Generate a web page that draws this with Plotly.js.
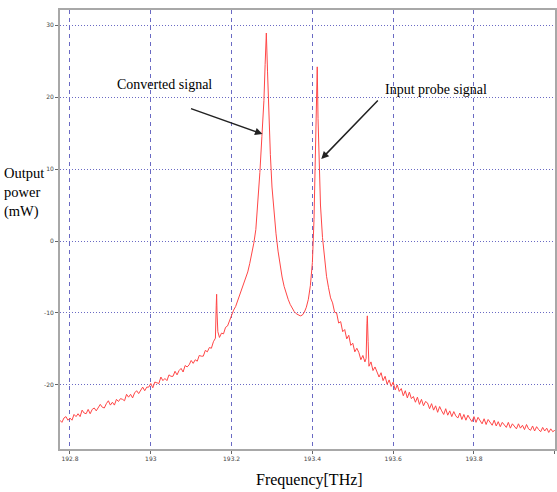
<!DOCTYPE html>
<html><head><meta charset="utf-8">
<script src="https://cdn.plot.ly/plotly-3.0.1.min.js"></script>
<style>html,body{margin:0;padding:0;background:#fff;}</style>
</head><body>
<div id="chart" style="width:557px;height:492px;"></div>
<script>
const freq = [
192.775,192.780,192.785,192.790,192.795,192.800,192.805,192.810,192.815,192.820,
192.825,192.830,192.835,192.840,192.845,192.850,192.855,192.860,192.865,192.870,
192.875,192.880,192.885,192.890,192.895,192.900,192.905,192.910,192.915,192.920,
192.925,192.930,192.935,192.940,192.945,192.950,192.955,192.960,192.965,192.970,
192.975,192.980,192.985,192.990,192.995,193.000,193.005,193.010,193.015,193.020,
193.025,193.030,193.035,193.040,193.045,193.050,193.055,193.060,193.065,193.070,
193.075,193.080,193.085,193.090,193.095,193.100,193.105,193.110,193.115,193.120,
193.125,193.130,193.135,193.140,193.145,193.150,193.155,193.160,193.162,193.163,
193.164,193.166,193.170,193.175,193.180,193.185,193.190,193.195,193.200,193.205,
193.210,193.215,193.220,193.225,193.230,193.235,193.240,193.245,193.250,193.255,
193.260,193.265,193.270,193.275,193.280,193.283,193.286,193.289,193.292,193.296,
193.300,193.305,193.310,193.315,193.320,193.325,193.330,193.335,193.340,193.345,
193.350,193.355,193.360,193.365,193.370,193.375,193.380,193.385,193.390,193.395,
193.400,193.404,193.407,193.410,193.412,193.414,193.417,193.420,193.425,193.430,
193.435,193.440,193.445,193.450,193.455,193.460,193.465,193.470,193.475,193.480,
193.485,193.490,193.495,193.500,193.505,193.510,193.515,193.520,193.525,193.530,
193.533,193.535,193.536,193.538,193.540,193.545,193.550,193.555,193.560,193.565,
193.570,193.575,193.580,193.585,193.590,193.595,193.600,193.605,193.610,193.615,
193.620,193.625,193.630,193.635,193.640,193.645,193.650,193.655,193.660,193.665,
193.670,193.675,193.680,193.685,193.690,193.695,193.700,193.705,193.710,193.715,
193.720,193.725,193.730,193.735,193.740,193.745,193.750,193.755,193.760,193.765,
193.770,193.775,193.780,193.785,193.790,193.795,193.800,193.805,193.810,193.815,
193.820,193.825,193.830,193.835,193.840,193.845,193.850,193.855,193.860,193.865,
193.870,193.875,193.880,193.885,193.890,193.895,193.900,193.905,193.910,193.915,
193.920,193.925,193.930,193.935,193.940,193.945,193.950,193.955,193.960,193.965,
193.970,193.975,193.980,193.985,193.990,193.995,194.000
];
const power = [
-24.9,-25.2,-24.6,-24.4,-24.9,-24.6,-24.9,-24.1,-24.4,-24.0,
-24.4,-23.5,-23.9,-24.0,-23.4,-24.0,-23.4,-23.2,-23.6,-23.2,
-22.7,-23.1,-23.2,-22.6,-22.2,-22.8,-22.4,-22.8,-22.0,-22.3,
-21.9,-22.0,-22.2,-21.3,-21.7,-21.3,-21.8,-21.1,-20.8,-21.2,
-20.8,-20.3,-20.8,-20.3,-20.3,-19.8,-20.4,-19.6,-19.7,-19.8,
-18.9,-19.4,-19.1,-19.4,-18.6,-18.8,-18.8,-18.1,-18.6,-18.0,
-17.7,-18.2,-17.3,-17.5,-17.2,-16.6,-17.0,-16.5,-16.7,-15.9,
-16.0,-16.0,-15.2,-15.4,-14.8,-14.9,-14.0,-13.5,-9.0,-7.4,
-10.0,-12.6,-13.4,-12.8,-12.9,-12.0,-11.8,-11.0,-10.4,-9.6,
-9.1,-8.3,-7.7,-6.8,-6.1,-5.2,-4.3,-3.1,-1.9,-0.3,
1.6,5.0,9.5,14.5,19.5,24.5,28.9,23.5,17.5,12.0,
7.5,3.8,1.0,-1.4,-3.4,-5.0,-6.3,-7.3,-8.1,-8.8,
-9.4,-9.8,-10.1,-10.3,-10.4,-10.3,-9.9,-9.2,-8.1,-6.2,
-3.0,3.0,10.0,18.0,24.2,17.0,10.0,5.0,0.5,-2.7,
-4.9,-6.5,-7.9,-8.6,-9.9,-10.0,-11.4,-11.2,-12.6,-12.3,
-13.6,-13.1,-14.5,-14.2,-15.4,-14.9,-15.5,-16.5,-15.9,-16.8,
-16.3,-11.5,-10.4,-14.0,-17.4,-16.8,-18.0,-17.5,-18.1,-18.9,
-18.3,-19.4,-18.8,-19.9,-19.3,-20.2,-19.6,-20.7,-20.0,-20.9,
-20.5,-21.5,-20.8,-21.8,-21.0,-21.9,-21.6,-22.4,-21.7,-22.7,
-22.0,-22.9,-22.3,-22.5,-23.3,-22.6,-23.5,-22.9,-23.8,-23.0,
-23.6,-24.1,-23.3,-24.2,-23.6,-24.4,-23.7,-24.3,-24.6,-23.9,
-24.8,-24.1,-24.9,-24.2,-24.7,-25.1,-24.4,-25.2,-24.5,-25.0,
-25.4,-24.7,-25.5,-24.8,-25.3,-25.6,-24.9,-25.7,-25.1,-25.8,
-25.2,-25.5,-25.9,-25.2,-26.0,-25.4,-25.8,-26.1,-25.4,-26.0,
-25.6,-26.2,-25.5,-26.1,-26.3,-25.7,-26.4,-25.8,-26.2,-26.5,
-25.9,-26.4,-26.0,-26.6,-26.1,-26.5,-26.3
];
const xTickVals = [192.8, 193.0, 193.2, 193.4, 193.6, 193.8, 194.0];
const xTickText = ['192.8', '193', '193.2', '193.4', '193.6', '193.8', '194'];
const yTickVals = [-20, -10, 0, 10, 20, 30];
const yTickText = ['-20', '-10', '0', '10', '20', '30'];

const serif = 'Liberation Serif, Times New Roman, serif';
const trace = {
  x: freq, y: power, type: 'scatter', mode: 'lines',
  line: {color: 'rgb(255,70,70)', width: 1},
  hoverinfo: 'skip'
};
const axisCommon = {
  showline: true, linecolor: '#a8a8a8', linewidth: 2, mirror: true,
  gridcolor: '#6a6ac4', gridwidth: 1, zeroline: false,
  ticks: 'outside', ticklen: 3, tickcolor: '#666',
  tickfont: {family: 'DejaVu Sans', size: 6, color: '#444'}
};
const layout = {
  width: 557, height: 492,
  margin: {l: 60, r: 2, t: 10, b: 43},
  paper_bgcolor: '#fff', plot_bgcolor: '#fff',
  showlegend: false,
  xaxis: Object.assign({}, axisCommon, {
    range: [192.7753, 194.0005], tickvals: xTickVals, ticktext: xTickText,
    griddash: '4px,4px'
  }),
  yaxis: Object.assign({}, axisCommon, {
    range: [-28.9, 32.1], tickvals: yTickVals, ticktext: yTickText,
    griddash: '1px,2px', ticklabelstandoff: 0
  }),
  annotations: [
    {x: 193.0346, y: 21.8, xref: 'x', yref: 'y', text: 'Converted signal', showarrow: false,
     font: {family: serif, size: 14, color: '#000'}},
    {x: 193.706, y: 21.1, xref: 'x', yref: 'y', text: 'Input probe signal', showarrow: false,
     font: {family: serif, size: 14, color: '#000'}},
    {x: 193.2765, y: 14.86, xref: 'x', yref: 'y', text: '', showarrow: true,
     ax: -73, ay: -26, arrowhead: 2, arrowsize: 1, arrowwidth: 1.5, arrowcolor: '#222'},
    {x: 193.422, y: 11.39, xref: 'x', yref: 'y', text: '', showarrow: true,
     ax: 58, ay: -60, arrowhead: 2, arrowsize: 1, arrowwidth: 1.5, arrowcolor: '#222'},
    {x: -0.117, y: 0.585, xref: 'paper', yref: 'paper', xanchor: 'left', yanchor: 'middle',
     align: 'left', text: 'Output<br>power<br>(mW)', showarrow: false,
     font: {family: serif, size: 14.5, color: '#000'}},
    {x: 0.505, y: -0.0706, xref: 'paper', yref: 'paper', xanchor: 'center', yanchor: 'middle',
     text: 'Frequency[THz]', showarrow: false,
     font: {family: serif, size: 16, color: '#000'}}
  ]
};
Plotly.newPlot('chart', [trace], layout, {displayModeBar: false, staticPlot: true});
</script>
</body></html>
